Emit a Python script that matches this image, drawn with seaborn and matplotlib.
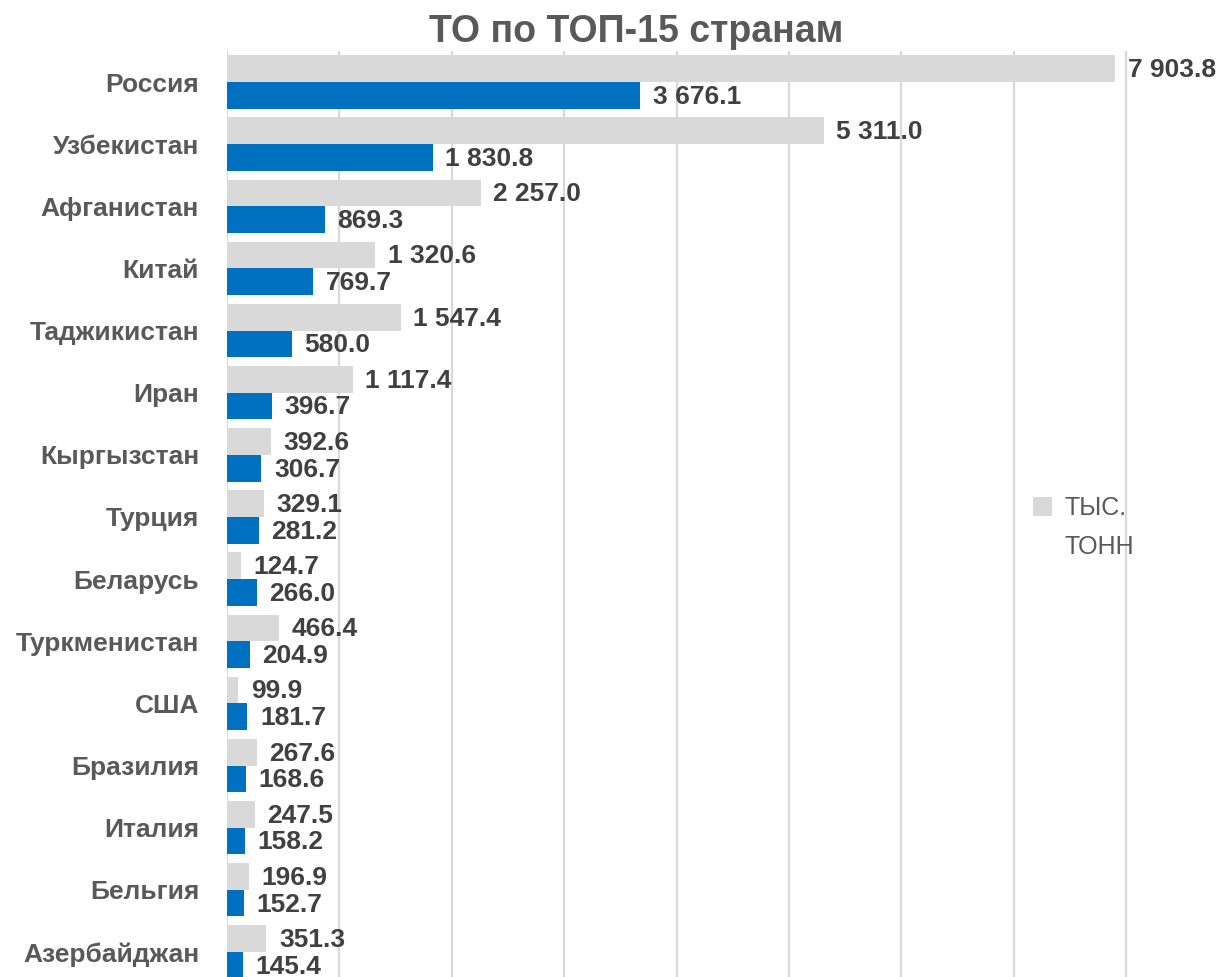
import matplotlib
matplotlib.use('Agg')
import matplotlib.pyplot as plt
import pandas as pd
import seaborn as sns
from matplotlib.patches import Patch

sns.set_style('white')
plt.rcParams['font.family'] = ['Liberation Sans', 'DejaVu Sans']

# data
countries = ['Россия', 'Узбекистан', 'Афганистан', 'Китай', 'Таджикистан', 'Иран',
             'Кыргызстан', 'Турция', 'Беларусь', 'Туркменистан', 'США', 'Бразилия',
             'Италия', 'Бельгия', 'Азербайджан']
tonnes = [7903.8, 5311.0, 2257.0, 1320.6, 1547.4, 1117.4, 392.6, 329.1, 124.7,
          466.4, 99.9, 267.6, 247.5, 196.9, 351.3]
money = [3676.1, 1830.8, 869.3, 769.7, 580.0, 396.7, 306.7, 281.2, 266.0,
         204.9, 181.7, 168.6, 158.2, 152.7, 145.4]
series = ['тыс. тонн', 'стоимость']
legend_lines = ['ТЫС.', 'ТОНН']
colors = ['#d9d9d9', '#0070c0']

df = pd.DataFrame({
    'country': countries * 2,
    'value': tonnes + money,
    'series': [series[0]] * len(countries) + [series[1]] * len(countries),
})

fig = plt.figure(figsize=(12.17, 9.77), dpi=100)
ax = fig.add_axes([0.1865, -0.0061, 0.8312, 0.9539])

sns.barplot(data=df, y='country', x='value', hue='series', hue_order=series,
            palette=colors, order=countries, orient='h', width=0.86,
            saturation=1, linewidth=0, ax=ax, legend=False)

ax.set_xlim(0, 9000)
ax.set_xticks(range(0, 9001, 1000))
ax.set_xticklabels([])
ax.grid(axis='x', color='#d9d9d9', linewidth=1.6)
ax.grid(axis='y', visible=False)
ax.set_axisbelow(True)
for s in ax.spines.values():
    s.set_visible(False)
ax.set_xlabel('')
ax.set_ylabel('')
ax.tick_params(axis='y', length=0, pad=20)
for t in ax.get_yticklabels():
    t.set_fontsize(19)
    t.set_fontweight('bold')
    t.set_color('#595959')

def fmt(v):
    return f'{v:,.1f}'.replace(',', ' ')

for cont in ax.containers:
    for bar in cont:
        w = bar.get_width()
        ax.annotate(fmt(w), (w, bar.get_y() + bar.get_height() / 2),
                    xytext=(9, -1), textcoords='offset points',
                    ha='left', va='center', fontsize=19, fontweight='bold',
                    color='#404040', annotation_clip=False)

fig.text(0.5226, 0.967, 'ТО по ТОП-15 странам', ha='center', va='center',
         fontsize=27, fontweight='bold', color='#595959')

# legend shows only the grey series, text broken over two lines
handles = [Patch(facecolor=colors[0], edgecolor='none'),
           Patch(facecolor='none', edgecolor='none')]
leg = ax.legend(handles=handles, labels=legend_lines,
                loc='upper left', bbox_to_anchor=(0.8487, 0.492),
                bbox_transform=fig.transFigure, frameon=False, fontsize=18,
                handlelength=0.75, handleheight=0.75, handletextpad=0.5,
                labelspacing=0.57, borderpad=0, borderaxespad=0)
for t in leg.get_texts():
    t.set_color('#595959')

fig.savefig('out.png', dpi=100)
